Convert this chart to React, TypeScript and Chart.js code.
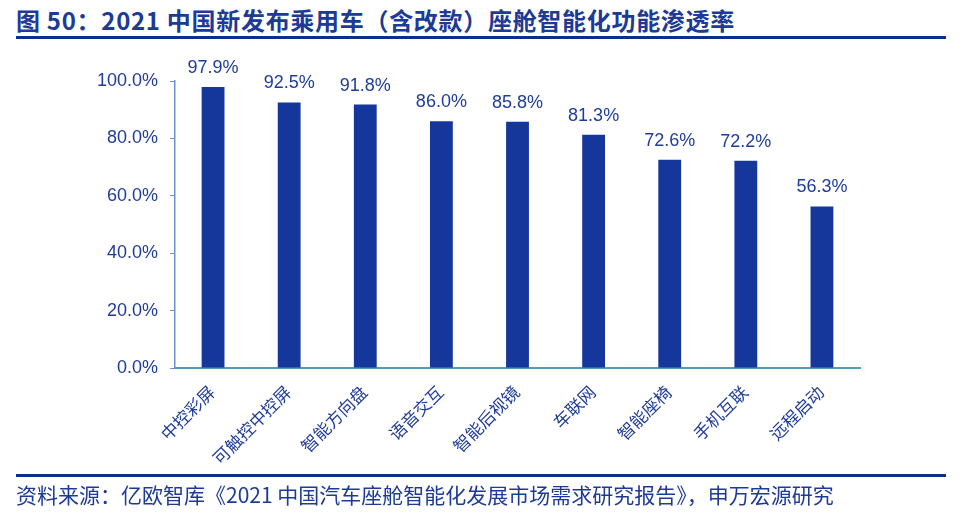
import React, { useEffect, useRef } from "react";
import { Chart, registerables } from "chart.js";

Chart.register(...registerables);

const categories = ["中控彩屏", "可触控中控屏", "智能方向盘", "语音交互", "智能后视镜", "车联网", "智能座椅", "手机互联", "远程启动"];
const values = [97.9, 92.5, 91.8, 86.0, 85.8, 81.3, 72.6, 72.2, 56.3];
const yTicks = [0, 20, 40, 60, 80, 100];

const titleText = "图 50：2021 中国新发布乘用车（含改款）座舱智能化功能渗透率";
const sourceText = "资料来源：亿欧智库《2021 中国汽车座舱智能化发展市场需求研究报告》，申万宏源研究";

const BLUE = "#15369a";
const TEXT = "#1f3c9a";
const FONT = "'Liberation Sans', 'Noto Sans CJK SC', sans-serif";

const labelPlugin = {
  id: "barLabels",
  afterDatasetsDraw(chart: any) {
    const { ctx } = chart;
    const meta = chart.getDatasetMeta(0);
    ctx.save();
    ctx.fillStyle = TEXT;
    ctx.font = `18px ${FONT}`;
    ctx.textAlign = "center";
    ctx.textBaseline = "bottom";
    meta.data.forEach((bar: any, i: number) => {
      ctx.fillText(values[i].toFixed(1) + "%", bar.x, bar.y - 10);
    });
    ctx.restore();
  },
};

export default function App() {
  const ref = useRef<HTMLCanvasElement | null>(null);
  useEffect(() => {
    if (!ref.current) return;
    const chart = new Chart(ref.current, {
      type: "bar",
      data: {
        labels: categories,
        datasets: [
          {
            data: values,
            backgroundColor: BLUE,
            borderWidth: 0,
            barPercentage: 0.6,
            categoryPercentage: 0.5,
          },
        ],
      },
      options: {
        responsive: false,
        animation: false,
        layout: { padding: { left: 0, top: 81, right: 115, bottom: 0 } },
        plugins: { legend: { display: false }, tooltip: { enabled: false } },
        scales: {
          x: {
            grid: { display: false, drawTicks: false },
            border: { color: "#4f9fb8", width: 2 },
            ticks: {
              color: TEXT,
              font: { size: 17, family: FONT },
              minRotation: 45,
              maxRotation: 45,
              padding: 15,
            },
            afterFit(scale: any) {
              scale.height = 515 - 368;
            },
          },
          y: {
            min: 0,
            max: 100,
            afterBuildTicks(scale: any) {
              scale.ticks = yTicks.map((v) => ({ value: v }));
            },
            grid: { drawOnChartArea: false, drawTicks: true, tickLength: 5, color: "#6f8fcf" },
            border: { color: "#6f8fcf", width: 1.5 },
            ticks: {
              color: TEXT,
              font: { size: 18, family: FONT },
              padding: 12,
              callback: (v: any) => Number(v).toFixed(1) + "%",
            },
            afterFit(scale: any) {
              scale.width = 175;
            },
          },
        },
      },
      plugins: [labelPlugin],
    });
    return () => chart.destroy();
  }, []);

  return (
    <div style={{ position: "absolute", left: 0, top: 0, width: 975, height: 515, background: "#fff", overflow: "hidden" }}>
      <div
        style={{
          position: "absolute",
          left: 16,
          top: 5,
          fontFamily: "'Noto Sans CJK SC', sans-serif",
          fontWeight: 700,
          fontSize: 24,
          color: "#1c3a96",
          whiteSpace: "nowrap",
          letterSpacing: 0.7,
          lineHeight: "30px",
        }}
      >
        {titleText}
      </div>
      <div style={{ position: "absolute", left: 16, top: 36, width: 930, height: 3, background: "#0c2f8f" }} />
      <canvas ref={ref} width={975} height={515} style={{ position: "absolute", left: 0, top: 0 }} />
      <div style={{ position: "absolute", left: 16, top: 474, width: 930, height: 3, background: "#0c2f8f" }} />
      <div
        style={{
          position: "absolute",
          left: 16,
          top: 480,
          fontFamily: "'Noto Sans CJK SC', sans-serif",
          fontSize: 21,
          color: "#1c3a96",
          whiteSpace: "nowrap",
          lineHeight: "28px",
        }}
      >
        {sourceText}
      </div>
    </div>
  );
}
